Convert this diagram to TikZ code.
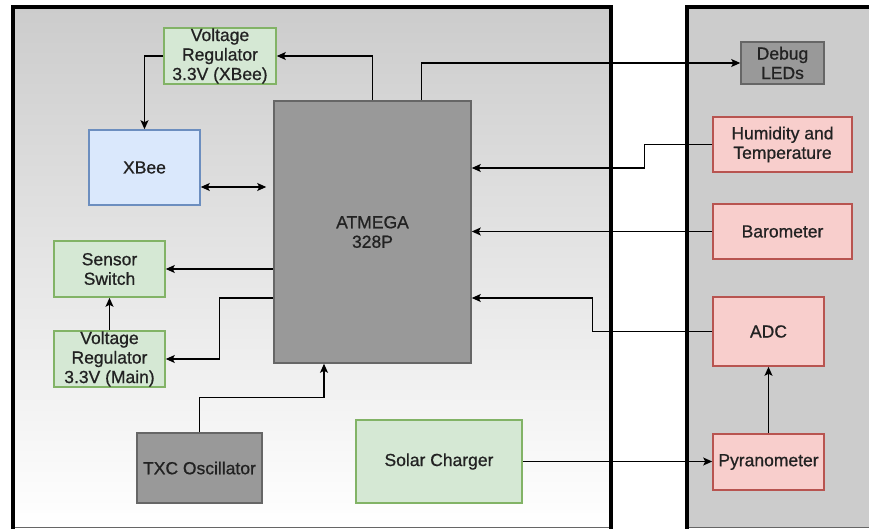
\documentclass[tikz,border=0pt]{standalone}
\usepackage{fontspec}
\setmainfont{Liberation Sans}
\newfontfamily\nodefont{Liberation Sans}[FakeBold=0.8]
\usetikzlibrary{arrows.meta}
\definecolor{gfill}{HTML}{D5E8D4}\definecolor{gline}{HTML}{82B366}
\definecolor{bfill}{HTML}{DAE8FC}\definecolor{bline}{HTML}{6C8EBF}
\definecolor{rfill}{HTML}{F8CECC}\definecolor{rline}{HTML}{B85450}
\definecolor{kfill}{HTML}{999999}\definecolor{kline}{HTML}{666666}
\definecolor{txt}{HTML}{222222}
\definecolor{panel}{HTML}{CCCCCC}
\tikzset{
  blk/.style={draw, line width=1.6pt, inner sep=0pt, align=center, text=txt,
    font=\nodefont\fontsize{17.5}{19.5}\selectfont},
  gbox/.style={blk, fill=gfill, draw=gline},
  bbox/.style={blk, fill=bfill, draw=bline},
  rbox/.style={blk, fill=rfill, draw=rline},
  kbox/.style={blk, fill=kfill, draw=kline},
  conn/.style={line width=1.2pt, draw=black},
  arr/.style={conn, -{Stealth[length=9pt,width=8pt,inset=2pt]}},
  darr/.style={conn, {Stealth[length=9pt,width=8pt,inset=2pt]}-{Stealth[length=9pt,width=8pt,inset=2pt]}},
  pborder/.style={line width=4pt, draw=black, line cap=rect},
}
\begin{document}
\begin{tikzpicture}[x=1pt,y=-1pt]
\useasboundingbox (0,0) rectangle (869,529);
% panels
\shade[top color=panel, bottom color=white] (13,7) rectangle (611,527.5);
\fill[panel] (687,7) rectangle (869,527.5);
\draw[gray!80!black, line width=0.8pt] (13,527.5) -- (611,527.5);
\draw[gray!80!black, line width=0.8pt] (687,527.5) -- (869,527.5);
\draw[pborder] (13,529) -- (13,7) -- (611,7) -- (611,529);
\draw[pborder] (687,529) -- (687,7) -- (870,7);
% nodes
\node[gbox, minimum width=112pt, minimum height=56pt] (vrx) at (220,56) {Voltage\\Regulator\\3.3V (XBee)};
\node[bbox, minimum width=111pt, minimum height=75pt] (xbee) at (144.5,167.5) {XBee};
\node[kbox, minimum width=197pt, minimum height=262pt] (atm) at (372.5,232) {ATMEGA\\328P};
\node[gbox, minimum width=111pt, minimum height=56pt] (ss) at (109.5,269) {Sensor\\Switch};
\node[gbox, minimum width=111pt, minimum height=56pt] (vrm) at (109.5,359) {Voltage\\Regulator\\3.3V (Main)};
\node[kbox, minimum width=125pt, minimum height=70pt] (txc) at (199.5,468) {TXC Oscillator};
\node[gbox, minimum width=166pt, minimum height=83pt] (solar) at (439,461.5) {Solar Charger};
\node[kbox, minimum width=83pt, minimum height=42pt] (dbg) at (782.5,63) {Debug\\LEDs};
\node[rbox, minimum width=139pt, minimum height=55pt] (hum) at (782.5,144.5) {Humidity and\\Temperature};
\node[rbox, minimum width=139pt, minimum height=55pt] (baro) at (782.5,231.5) {Barometer};
\node[rbox, minimum width=111pt, minimum height=69pt] (adc) at (768.5,331.5) {ADC};
\node[rbox, minimum width=111pt, minimum height=56pt] (pyr) at (768.5,462) {Pyranometer};
% connectors
\draw[arr] (atm.north) |- (vrx.east);
\draw[arr] (vrx.west) -| (xbee.north);
\draw[darr, shorten >=7pt] ([yshift=-19.5pt]xbee.east) -- ([yshift=-19.5pt]xbee.east -| atm.west);
\draw[arr] ([xshift=49pt]atm.north) |- (dbg.west);
\draw[arr] (hum.west) -- ++(-68,0) |- ([yshift=64pt]atm.east);
\draw[arr] (baro.west) -- (baro.west -| atm.east);
\draw[arr] (adc.west) -- ++(-120,0) |- ([yshift=-66pt]atm.east);
\draw[arr] (pyr.north) -- (adc.south);
\draw[arr] (solar.east) -- (solar.east -| pyr.west);
\draw[arr] (ss.east -| atm.west) -- (ss.east);
\draw[arr] ([yshift=-66pt]atm.west) -- ++(-54,0) |- (vrm.east);
\draw[arr] (vrm.north) -- (ss.south);
\draw[arr] (txc.north) -- ++(0,-35) -| ([xshift=-48.5pt]atm.south);
\end{tikzpicture}
\end{document}
